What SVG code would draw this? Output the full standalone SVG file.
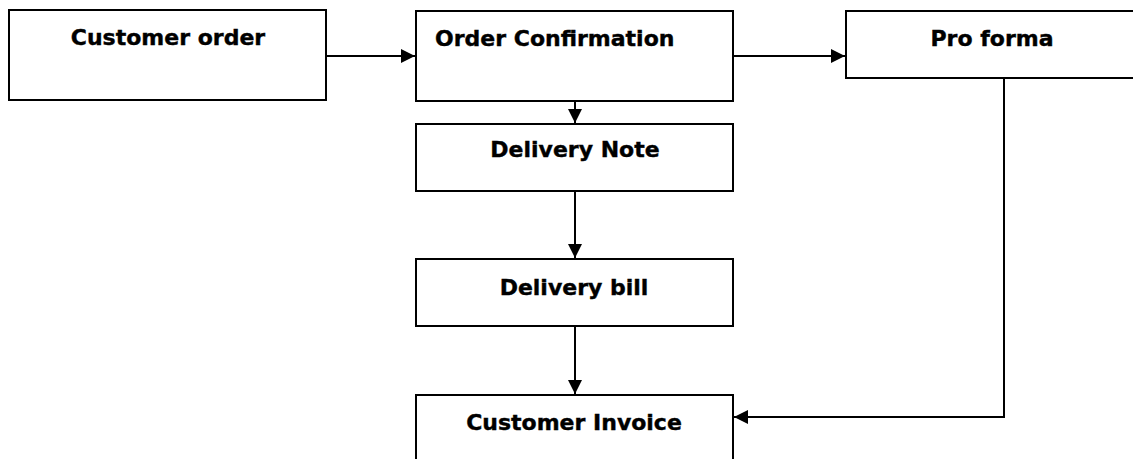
<svg xmlns="http://www.w3.org/2000/svg" width="1133" height="459" viewBox="0 0 1133 459">
<defs>
<marker id="arr" viewBox="0 0 14 14" refX="14" refY="7" markerWidth="14" markerHeight="14" markerUnits="userSpaceOnUse" orient="auto">
<path d="M0,0 L14,7 L0,14 Z" fill="#000"/>
</marker>
</defs>
<style>
.box{fill:#fff;stroke:#000;stroke-width:2}
.lbl{font-family:"DejaVu Sans",Verdana,sans-serif;font-weight:bold;font-size:22px;fill:#000;stroke:#000;stroke-width:0.4}
.c{text-anchor:middle}
.con{fill:none;stroke:#000;stroke-width:2;marker-end:url(#arr)}
</style>
<rect width="1133" height="459" fill="#fff"/>
<g id="customer-order"><rect class="box" x="9" y="10" width="317" height="90"/><text class="lbl c" x="168" y="45">Customer order</text></g>
<g id="order-confirmation"><rect class="box" x="416" y="11" width="317" height="90"/><text class="lbl" x="435" y="46">Order Confirmation</text></g>
<g id="pro-forma"><rect class="box" x="846" y="11" width="292" height="67"/><text class="lbl c" x="992" y="46">Pro forma</text></g>
<g id="delivery-note"><rect class="box" x="416" y="124" width="317" height="67"/><text class="lbl c" x="575" y="157">Delivery Note</text></g>
<g id="delivery-bill"><rect class="box" x="416" y="259" width="317" height="67"/><text class="lbl c" x="574" y="295">Delivery bill</text></g>
<g id="customer-invoice"><rect class="box" x="416" y="395" width="317" height="80"/><text class="lbl c" x="574" y="430">Customer Invoice</text></g>
<g id="connectors">
<path class="con" d="M326,56 L415,56"/>
<path class="con" d="M733,56 L845,56"/>
<path class="con" d="M575,101 L575,123"/>
<path class="con" d="M575,191 L575,258"/>
<path class="con" d="M575,326 L575,394"/>
<path class="con" d="M1004,78 L1004,417 L734,417"/>
</g>
</svg>
